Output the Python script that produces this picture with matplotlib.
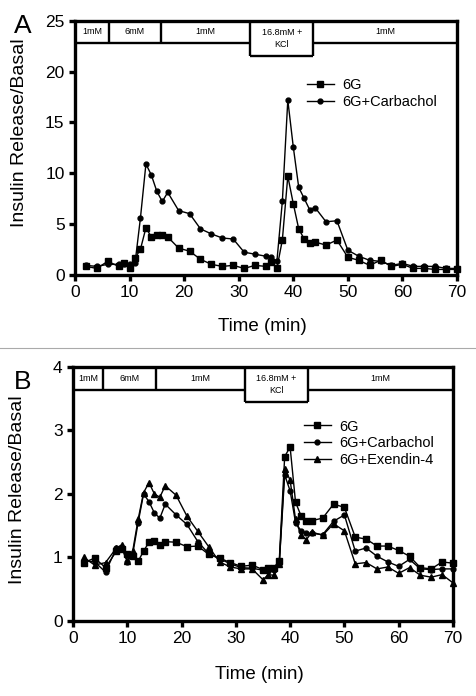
import matplotlib
matplotlib.use("Agg")
import matplotlib.pyplot as plt
from matplotlib.lines import Line2D

plt.rcParams['font.family'] = ['Liberation Sans', 'DejaVu Sans']

# sampling times (min), shared by both panels
time = [2, 4, 6, 8, 9, 10, 11, 12, 13, 14, 15, 16, 17, 19, 21, 23, 25, 27, 29, 31, 33, 35,
        36, 37, 38, 39, 40, 41, 42, 43, 44, 46, 48, 50, 52, 54, 56, 58, 60, 62, 64, 66, 68, 70]

# panel A
a_6g = [0.8, 0.6, 1.3, 0.8, 1.1, 0.6, 1.6,
        2.5, 4.6, 3.7, 3.9, 3.9, 3.7,
        2.6, 2.3, 1.5, 1.0, 0.8, 0.9, 0.6, 0.9, 0.8,
        1.2, 0.6, 3.4, 9.7, 7.0, 4.5, 3.5, 3.1, 3.2,
        2.9, 3.4, 1.7, 1.4, 0.9, 1.4, 0.8, 1.0, 0.6, 0.6, 0.5, 0.5, 0.5]
a_carb = [0.9, 0.8, 1.0, 1.0, 1.0, 1.0, 1.1,
          5.6, 10.9, 9.8, 8.2, 7.2, 8.1,
          6.3, 6.0, 4.5, 4.0, 3.6, 3.5, 2.2, 2.0, 1.8,
          1.7, 1.3, 7.2, 17.2, 12.6, 8.6, 7.5, 6.4, 6.6,
          5.2, 5.3, 2.4, 1.8, 1.4, 1.3, 0.9, 1.1, 0.8, 0.8, 0.8, 0.6, 0.6]

# panel B
b_6g = [0.92, 0.99, 0.84, 1.1, 1.13, 1.05, 1.03,
        0.94, 1.1, 1.24, 1.26, 1.2, 1.25,
        1.24, 1.17, 1.18, 1.05, 0.99, 0.92, 0.86, 0.88, 0.81,
        0.84, 0.84, 0.95, 2.59, 2.74, 1.87, 1.66, 1.58, 1.58,
        1.62, 1.84, 1.79, 1.32, 1.29, 1.18, 1.18, 1.11, 1.02, 0.84, 0.82, 0.93, 0.91]
b_carb = [0.95, 0.93, 0.77, 1.15, 1.15, 0.93, 1.05,
          1.55, 2.0, 1.88, 1.7, 1.62, 1.84,
          1.67, 1.52, 1.25, 1.06, 0.98, 0.9, 0.84, 0.83, 0.8,
          0.78, 0.8, 0.9, 2.3, 2.05, 1.55, 1.42, 1.38, 1.38,
          1.36, 1.57, 1.67, 1.1, 1.15, 1.02, 0.93, 0.86, 0.97, 0.82, 0.81, 0.82, 0.82]
b_exen = [1.0, 0.88, 0.92, 1.15, 1.2, 0.95, 1.1,
          1.6, 2.02, 2.18, 2.0, 1.95, 2.13,
          1.98, 1.65, 1.41, 1.17, 0.93, 0.85, 0.82, 0.82, 0.65,
          0.73, 0.72, 0.9, 2.4, 2.22, 1.6, 1.35, 1.28, 1.4,
          1.35, 1.53, 1.42, 0.9, 0.92, 0.82, 0.85, 0.75, 0.84, 0.72, 0.69, 0.73, 0.6]

stim_labels = ['1mM', '6mM', '1mM', '16.8mM +\nKCl', '1mM']

SW = 2.4


def stim_band(ax, edges, ytop, ybot, ykcl):
    # boxes across the top of the plot
    x0, d1, d2, d3, d4, x1 = edges
    kw = dict(color='black', lw=1.7, clip_on=False, solid_capstyle='butt')
    ax.plot([x0, d3], [ybot, ybot], **kw)
    ax.plot([d4, x1], [ybot, ybot], **kw)
    ax.plot([d3, d4], [ykcl, ykcl], **kw)
    for d in (d1, d2):
        ax.plot([d, d], [ytop, ybot], **kw)
    for d in (d3, d4):
        ax.plot([d, d], [ytop, ykcl], **kw)
    ymid = (ytop + ybot) / 2
    for i, lab in enumerate(stim_labels):
        xc = (edges[i] + edges[i + 1]) / 2
        if '\n' in lab:
            ax.text(xc, (ytop + ykcl) / 2, lab, ha='center', va='center', fontsize=6.5,
                    linespacing=1.3)
        else:
            ax.text(xc, ymid, lab, ha='center', va='center', fontsize=6.5)


def style(ax, ymax, ystep):
    ax.set_xlim(0, 70)
    ax.set_ylim(0, ymax)
    ax.set_xticks(range(0, 71, 10))
    ax.set_yticks([v * ystep for v in range(int(ymax / ystep) + 1)])
    for s in ax.spines.values():
        s.set_linewidth(SW)
    ax.tick_params(direction='out', length=4.5, width=SW, labelsize=12.5, pad=3)
    ax.set_xlabel('Time (min)', fontsize=13.5)
    ax.set_ylabel('Insulin Release/Basal', fontsize=14)
    ax.xaxis.label.set_va('center')
    ax.yaxis.label.set_va('center')


fig = plt.figure(figsize=(4.77, 6.96), dpi=100)

axA = fig.add_axes([0.1572, 0.6056, 0.8008, 0.3642])
axA.plot(time, a_6g, '-s', color='black', lw=1.0, ms=4, clip_on=False, label='6G')
axA.plot(time, a_carb, '-o', color='black', lw=1.0, ms=3.5, clip_on=False, label='6G+Carbachol')
style(axA, 25, 5)
stim_band(axA, [0, 6.3, 15.7, 32.1, 43.7, 70], 25, 22.86, 21.55)
axA.legend(loc='upper left', bbox_to_anchor=(0.607, 0.775), frameon=False, fontsize=10.5,
           handlelength=1.85, handletextpad=0.6, labelspacing=0.2, borderpad=0,
           borderaxespad=0, numpoints=1)
axA.yaxis.set_label_coords(-0.145, 0.56)
axA.xaxis.set_label_coords(0.49, -0.205)

axB = fig.add_axes([0.1530, 0.1078, 0.7966, 0.3649])
axB.plot(time, b_6g, '-s', color='black', lw=1.0, ms=4, clip_on=False, label='6G')
axB.plot(time, b_carb, '-o', color='black', lw=1.0, ms=3.5, clip_on=False, label='6G+Carbachol')
axB.plot(time, b_exen, '-^', color='black', lw=1.0, ms=4, clip_on=False, label='6G+Exendin-4')
style(axB, 4, 1)
stim_band(axB, [0, 5.6, 15.3, 31.7, 43.3, 70], 4, 3.64, 3.45)
axB.legend(loc='upper left', bbox_to_anchor=(0.608, 0.793), frameon=False, fontsize=10.5,
           handlelength=1.85, handletextpad=0.6, labelspacing=0.2, borderpad=0,
           borderaxespad=0, numpoints=1)
axB.yaxis.set_label_coords(-0.145, 0.516)
axB.xaxis.set_label_coords(0.49, -0.21)

# panel letters and separator
fig.text(23 / 477, 1 - 26 / 696, 'A', fontsize=19, ha='center', va='center')
fig.text(23 / 477, 1 - 382 / 696, 'B', fontsize=19, ha='center', va='center')
fig.add_artist(Line2D([0, 1], [1 - 348 / 696, 1 - 348 / 696], color='#aaaaaa', lw=0.8))

fig.savefig('out.png', dpi=100)
